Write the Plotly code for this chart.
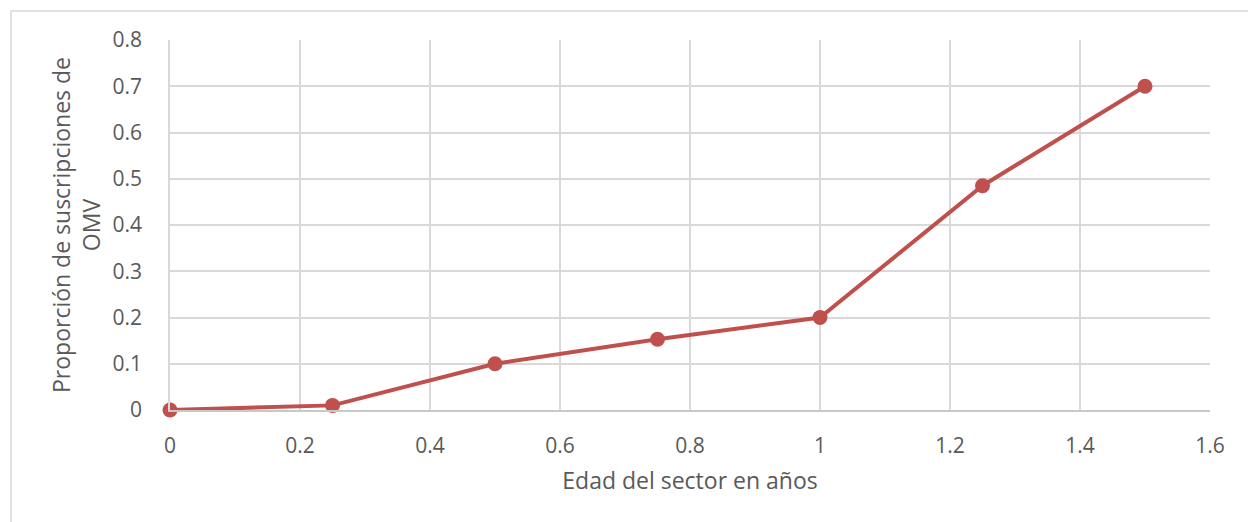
import plotly.graph_objects as go

edad = [0, 0.25, 0.5, 0.75, 1.0, 1.25, 1.5]
proporcion = [0.0, 0.01, 0.1, 0.153, 0.2, 0.485, 0.7]
x_ticks = [0, 0.2, 0.4, 0.6, 0.8, 1, 1.2, 1.4, 1.6]
y_ticks = [0, 0.1, 0.2, 0.3, 0.4, 0.5, 0.6, 0.7, 0.8]

FONT = "Open Sans, Liberation Sans, sans-serif"
TXT = "#595959"

fig = go.Figure()
fig.add_trace(go.Scatter(
    x=edad, y=proporcion, mode="lines+markers",
    line=dict(color="#C0504D", width=4),
    marker=dict(color="#C0504D", size=15),
    cliponaxis=False,
    showlegend=False,
))

fig.update_layout(
    width=1248, height=522,
    margin=dict(l=170, r=38, t=40, b=112),
    paper_bgcolor="white", plot_bgcolor="white",
    font=dict(family=FONT, color=TXT, size=21),
    xaxis=dict(
        range=[0, 1.6], tickvals=x_ticks, ticktext=[f"{v:g}" for v in x_ticks],
        showgrid=True, gridcolor="#d9d9d9", gridwidth=1.5,
        showline=True, linecolor="#c8c8c8", linewidth=1.5,
        zeroline=False, ticks="", ticklabelstandoff=16,
        tickfont=dict(size=21, color=TXT),
        title=dict(text="Edad del sector en años", font=dict(size=23, color=TXT), standoff=15),
    ),
    yaxis=dict(
        range=[0, 0.8], tickvals=y_ticks, ticktext=[f"{v:g}" for v in y_ticks],
        showgrid=True, gridcolor="#d9d9d9", gridwidth=1.5,
        showline=True, linecolor="#d9d9d9", linewidth=1.5,
        zeroline=False, ticks="", ticklabelstandoff=22,
        tickfont=dict(size=21, color=TXT),
    ),
    annotations=[dict(
        text="Proporción de suscripciones de<br>OMV", textangle=-90,
        xref="paper", yref="paper", x=(76 - 170) / 1040, y=0.5,
        xanchor="center", yanchor="middle", showarrow=False,
        font=dict(size=23, color=TXT, family=FONT),
    )],
    shapes=[dict(
        type="rect", xref="paper", yref="paper",
        x0=(11 - 170) / 1040, x1=(1260 - 170) / 1040,
        y0=(410 - 540) / 370, y1=(410 - 11) / 370,
        line=dict(color="#d9d9d9", width=1.5), fillcolor="rgba(0,0,0,0)", layer="below",
    )],
)

fig.write_html("out.html")
